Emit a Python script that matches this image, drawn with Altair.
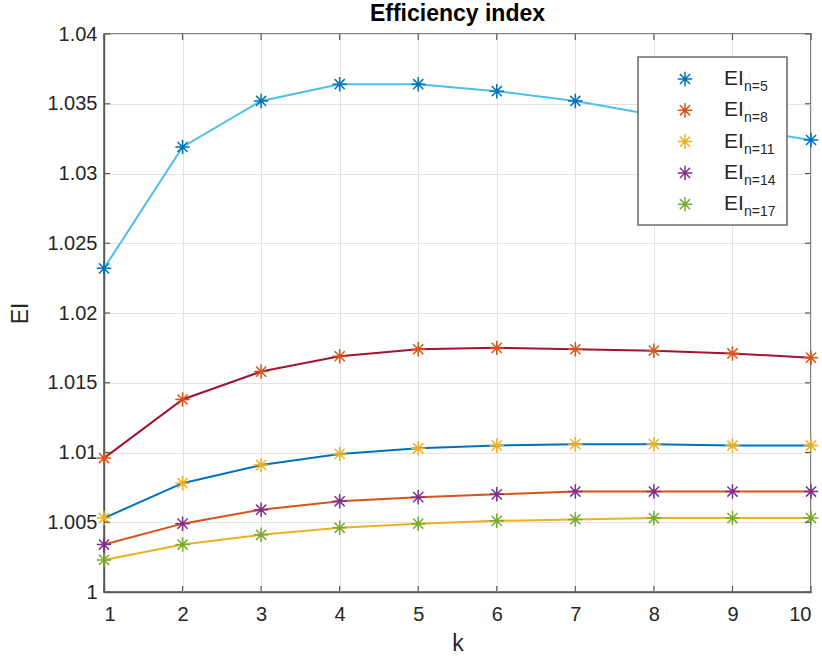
import altair as alt
import pandas as pd

# ---- data -------------------------------------------------------------
k = [1, 2, 3, 4, 5, 6, 7, 8, 9, 10]
ei_n5 = [1.0232, 1.0319, 1.0352, 1.0364, 1.0364, 1.0359, 1.0352, 1.0342, 1.0333, 1.0324]
ei_n8 = [1.0096, 1.0138, 1.0158, 1.0169, 1.0174, 1.0175, 1.0174, 1.0173, 1.0171, 1.0168]
ei_n11 = [1.0053, 1.0078, 1.0091, 1.0099, 1.0103, 1.0105, 1.0106, 1.0106, 1.0105, 1.0105]
ei_n14 = [1.0034, 1.0049, 1.0059, 1.0065, 1.0068, 1.0070, 1.0072, 1.0072, 1.0072, 1.0072]
ei_n17 = [1.0023, 1.0034, 1.0041, 1.0046, 1.0049, 1.0051, 1.0052, 1.0053, 1.0053, 1.0053]

series = ["n=5", "n=8", "n=11", "n=14", "n=17"]
line_colors = ["#4DBEEE", "#A2142F", "#0072BD", "#D95319", "#EDB120"]
marker_colors = ["#0072BD", "#D95319", "#EDB120", "#7E2F8E", "#77AC30"]

x_ticks = k
y_ticks = [1.0, 1.005, 1.01, 1.015, 1.02, 1.025, 1.03, 1.035, 1.04]
chart_title = ["Efficiency index"]

# ---- tables -----------------------------------------------------------
rows = []
for name, vals in zip(series, [ei_n5, ei_n8, ei_n11, ei_n14, ei_n17]):
    for kk, v in zip(k, vals):
        rows.append({"k": kk, "EI": v, "series": name})
df = pd.DataFrame(rows)

legend_df = pd.DataFrame({"series": series, "idx": list(range(len(series)))})
xt_df = pd.DataFrame({"k": x_ticks})
yt_df = pd.DataFrame({"EI": y_ticks})
one = pd.DataFrame({"a": [0]})
title_df = pd.DataFrame({"t": chart_title})

W, H = 707, 558
FONT = "Liberation Sans"
TXT = "#262626"
FRAME = "#5a5a5a"

asterisk = "M-1,0L1,0M0,-1L0,1M-0.7,-0.7L0.7,0.7M-0.7,0.7L0.7,-0.7"

xscale = alt.Scale(domain=[1, 10], nice=False, zero=False)
yscale = alt.Scale(domain=[1.0, 1.04], nice=False, zero=False)

xaxis = alt.Axis(values=x_ticks, grid=True, tickSize=0, labelPadding=12,
                 title="k", titlePadding=8, format="d")
yaxis = alt.Axis(values=y_ticks, grid=True, tickSize=0, labelPadding=7,
                 title="EI", titlePadding=14, format="~g")

X = alt.X("k:Q", scale=xscale, axis=xaxis)
Y = alt.Y("EI:Q", scale=yscale, axis=yaxis)

lines = alt.Chart(df).mark_line(strokeWidth=2).encode(
    x=X, y=Y,
    color=alt.Color("series:N", scale=alt.Scale(domain=series, range=line_colors), legend=None),
)

stroke_scale = alt.Scale(domain=series, range=marker_colors)
MSIZE = 210

markers = alt.Chart(df).mark_point(shape=asterisk, filled=False, size=MSIZE, strokeWidth=1.5, opacity=1).encode(
    x=alt.X("k:Q", scale=xscale),
    y=alt.Y("EI:Q", scale=yscale),
    stroke=alt.Stroke("series:N", scale=stroke_scale, legend=None),
)

TL = 6
tick_b = alt.Chart(xt_df).mark_rule(color=FRAME, strokeWidth=1.2).encode(
    x=alt.X("k:Q", scale=xscale), y=alt.value(H), y2=alt.value(H - TL))
tick_t = alt.Chart(xt_df).mark_rule(color=FRAME, strokeWidth=1.2).encode(
    x=alt.X("k:Q", scale=xscale), y=alt.value(0), y2=alt.value(TL))
tick_l = alt.Chart(yt_df).mark_rule(color=FRAME, strokeWidth=1.2).encode(
    y=alt.Y("EI:Q", scale=yscale), x=alt.value(0), x2=alt.value(TL))
tick_r = alt.Chart(yt_df).mark_rule(color=FRAME, strokeWidth=1.2).encode(
    y=alt.Y("EI:Q", scale=yscale), x=alt.value(W), x2=alt.value(W - TL))

# ---- custom legend ----------------------------------------------------
leg_box = alt.Chart(one).mark_rect(fill="white", stroke="#6e6e6e", strokeWidth=1.6).encode(
    x=alt.value(534), x2=alt.value(683), y=alt.value(23), y2=alt.value(191))

leg_base = alt.Chart(legend_df).transform_calculate(
    py="45 + 31.3 * datum.idx", sy="datum.py + 8")

leg_marks = leg_base.mark_point(shape=asterisk, filled=False, size=MSIZE, strokeWidth=1.5, opacity=1).encode(
    x=alt.value(581), y=alt.Y("py:Q", scale=None),
    stroke=alt.Stroke("series:N", scale=stroke_scale, legend=None))

leg_ei = leg_base.mark_text(align="left", baseline="middle", fontSize=21, font=FONT, color=TXT).encode(
    x=alt.value(620), y=alt.Y("py:Q", scale=None), text=alt.value("EI"))

leg_sub = leg_base.mark_text(align="left", baseline="middle", fontSize=14, font=FONT, color=TXT).encode(
    x=alt.value(640), y=alt.Y("sy:Q", scale=None), text="series:N")

# ---- title as text above the plot area ---------------------------------
title = alt.Chart(title_df).mark_text(
    align="center", baseline="alphabetic", fontSize=23, fontWeight="bold", font=FONT, color="black"
).encode(x=alt.value(W / 2), y=alt.value(-13), text="t:N")

chart = alt.layer(
    lines, markers, tick_b, tick_t, tick_l, tick_r,
    leg_box, leg_marks, leg_ei, leg_sub, title,
).properties(
    width=W, height=H,
    autosize=alt.AutoSizeParams(type="none"),
    padding={"left": 104, "top": 34, "right": 11, "bottom": 67},
    background="white",
).configure_view(
    stroke=FRAME, strokeWidth=1.5
).configure_axis(
    labelFont=FONT, labelFontSize=20, labelColor=TXT,
    titleFont=FONT, titleFontSize=23, titleFontWeight="normal", titleColor=TXT,
    gridColor="#e3e3e3", gridWidth=1, domainColor=FRAME, domainWidth=1.5,
)

chart.save("out.html", embed_options={"renderer": "svg", "actions": False})
